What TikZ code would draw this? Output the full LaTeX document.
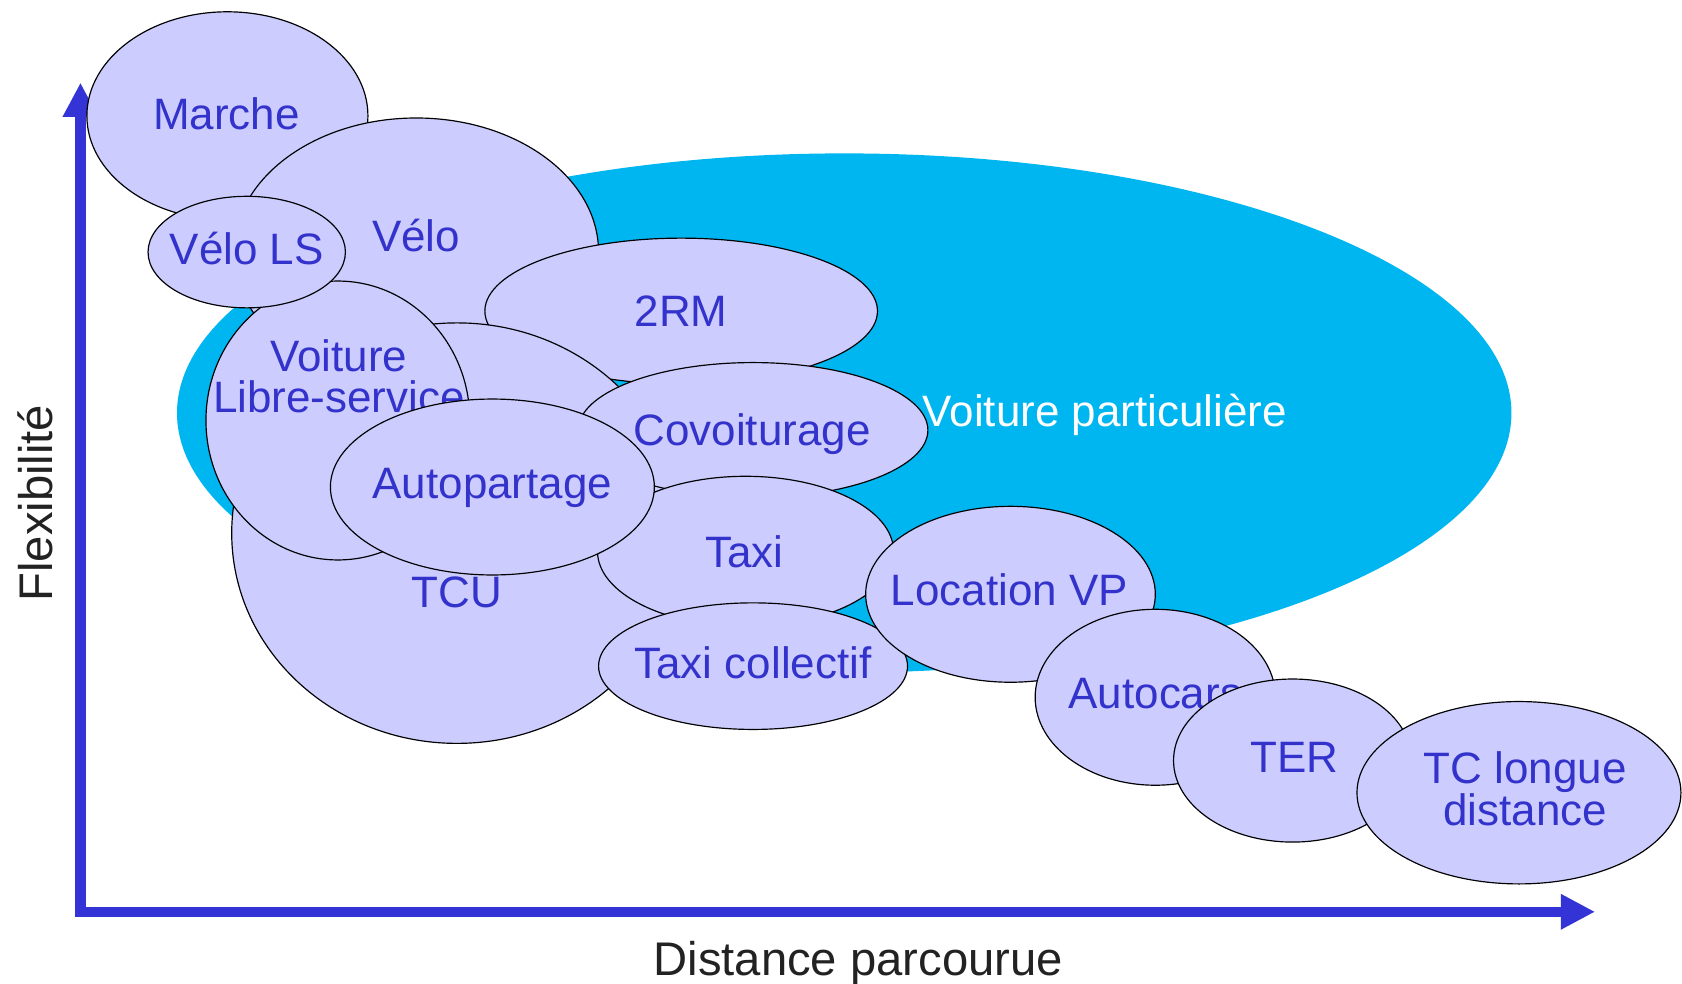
\documentclass[tikz,border=0pt]{standalone}
\usepackage{fontspec}
\setmainfont{Liberation Sans}
\usetikzlibrary{shapes.geometric,arrows.meta}

\definecolor{lav}{RGB}{204,204,255}
\definecolor{vpcyan}{RGB}{0,182,240}
\definecolor{txtblue}{RGB}{51,51,204}
\definecolor{axisblue}{RGB}{52,52,214}
\definecolor{axistext}{RGB}{34,34,34}

\tikzset{
  bubble/.style={ellipse, draw=black, line width=1.1pt, fill=lav, inner sep=0pt},
  lbl/.style={font=\fontsize{41}{38}\selectfont, text=txtblue, inner sep=0pt,
              align=center},
  axislbl/.style={font=\fontsize{44}{48}\selectfont, text=axistext, inner sep=0pt},
  axisline/.style={draw=axisblue, line width=9.5pt,
                   -{Triangle[length=32pt,width=31pt]}},
}

\begin{document}
\begin{tikzpicture}[x=1pt, y=-1pt]
  \useasboundingbox (0,0) rectangle (1568,917);
  \fill[white] (0,0) rectangle (1568,917);

  % axes
  \coordinate (origin) at (75,850);
  \coordinate (ytip) at (75,77);
  \coordinate (xtip) at (1487,850);
  \draw[axisline] (origin) -- (ytip);
  \draw[axisline] (origin) -- (xtip);
  \fill[axisblue] (70.25,845.25) rectangle (79.75,854.75);

  \node[axislbl, rotate=90] (flex) at (33,469) {Flexibilité};
  \node[axislbl, anchor=base] (dist) at (800,909) {Distance parcourue};

  % private car: large backdrop
  \node[ellipse, fill=vpcyan, inner sep=0pt, minimum width=1244pt,
        minimum height=484pt] (vp) at (787,385) {};
  \node[lbl, text=white] (vptxt) at (1030,387) {Voiture particulière};

  % modes, back to front
  \node[bubble, minimum width=262pt, minimum height=194pt] (marche) at (212,108) {};
  \node[lbl] (marchetxt) at (211,106) {Marche};

  \node[bubble, minimum width=340pt, minimum height=250pt] (velo) at (388,235) {};
  \node[lbl] (velotxt) at (388,220) {Vélo};

  \node[bubble, minimum width=366pt, minimum height=136pt] (drm) at (635,290) {};
  \node[lbl] (drmtxt) at (635,290) {2RM};

  \node[bubble, minimum width=420pt, minimum height=392pt] (tcu) at (426,497) {};
  \node[lbl] (tcutxt) at (426,552) {TCU};

  \node[bubble, minimum width=246pt, minimum height=260pt] (vls) at (315,392) {};
  \node[lbl] (vlstxt) at (316,351) {Voiture\\Libre-service};

  \node[bubble, minimum width=184pt, minimum height=104pt] (velols) at (230,235) {};
  \node[lbl] (velolstxt) at (230,232) {Vélo LS};

  \node[bubble, minimum width=326pt, minimum height=126pt] (covoit) at (702,401) {};
  \node[lbl] (covoittxt) at (701,405) {Covoiturage};

  \node[bubble, minimum width=276pt, minimum height=140pt] (taxi) at (695,514) {};
  \node[lbl] (taxitxt) at (694,514) {Taxi};

  \node[bubble, minimum width=288pt, minimum height=118pt] (taxicol) at (702,621) {};
  \node[lbl] (taxicoltxt) at (702,618) {Taxi collectif};

  \node[bubble, minimum width=302pt, minimum height=164pt] (autop) at (459,454) {};
  \node[lbl] (autoptxt) at (459,455) {Autopartage};

  \node[bubble, minimum width=270pt, minimum height=164pt] (locvp) at (942,554) {};
  \node[lbl] (locvptxt) at (941,550) {Location VP};

  \node[bubble, minimum width=224pt, minimum height=164pt] (autocars) at (1077,650) {};
  \node[lbl] (autocarstxt) at (1077,647) {Autocars};

  \node[bubble, minimum width=222pt, minimum height=152pt] (ter) at (1205,709) {};
  \node[lbl] (tertxt) at (1207,706) {TER};

  \node[bubble, minimum width=302pt, minimum height=170pt] (tcld) at (1416,739) {};
  \node[lbl] (tcldtxt) at (1422,735) {TC longue\\distance};
\end{tikzpicture}
\end{document}
